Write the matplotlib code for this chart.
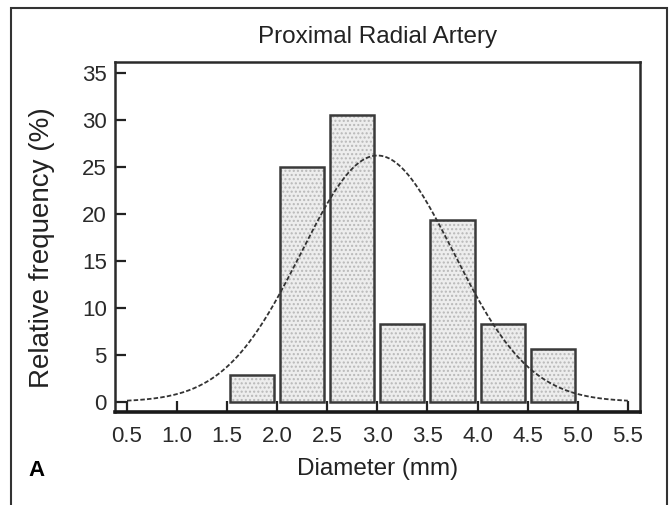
import numpy as np
import matplotlib
matplotlib.use("Agg")
import matplotlib.pyplot as plt
from matplotlib.patches import Rectangle

# histogram of proximal radial artery diameter (n = 36)
bin_centers = [1.75, 2.25, 2.75, 3.25, 3.75, 4.25, 4.75]
rel_freq = [2.8, 25.0, 30.6, 8.3, 19.4, 8.3, 5.6]

# fitted normal curve parameters
fit_mean = 3.0
fit_sd = 0.76
fit_range = [0.5, 5.5]
bin_width = 0.5

xtick_vals = [0.5, 1.0, 1.5, 2.0, 2.5, 3.0, 3.5, 4.0, 4.5, 5.0, 5.5]
ytick_vals = [0, 5, 10, 15, 20, 25, 30, 35]

plt.rcParams['font.family'] = ['Liberation Sans', 'DejaVu Sans']

fig = plt.figure(figsize=(6.7, 5.05), dpi=100)
ax = fig.add_axes([0.1716, 0.184, 0.7834, 0.693])

# bars: dotted fill, then outline on top
ax.bar(bin_centers, rel_freq, width=0.44, color='#ededed', edgecolor='#b8b8b8',
       hatch='....', linewidth=0, zorder=2)
ax.bar(bin_centers, rel_freq, width=0.44, color='none', edgecolor='#3a3a3a',
       linewidth=1.8, zorder=3)

xs = np.linspace(fit_range[0], fit_range[1], 400)
ys = 100 * bin_width / (fit_sd * np.sqrt(2 * np.pi)) * np.exp(-0.5 * ((xs - fit_mean) / fit_sd) ** 2)
ax.plot(xs, ys, color='#333333', lw=1.3, linestyle=(0, (2.5, 1.2)), zorder=4)

ax.set_xlim(0.38, 5.62)
ax.set_ylim(-1.1, 36.2)
ax.set_xticks(xtick_vals)
ax.set_xticklabels(["%.1f" % v for v in xtick_vals])
ax.set_yticks(ytick_vals)

ax.tick_params(axis='both', direction='in', length=8, width=1.6, color='#222222',
               labelsize=16, labelcolor='#2a2a2a')
ax.tick_params(axis='x', pad=10)
ax.tick_params(axis='y', pad=6)

for side in ['left', 'top', 'right']:
    ax.spines[side].set_linewidth(1.8)
    ax.spines[side].set_color('#2a2a2a')
ax.spines['bottom'].set_linewidth(2.6)
ax.spines['bottom'].set_color('#1a1a1a')

ax.set_title("Proximal Radial Artery", fontsize=17.5, color='#222222', pad=14)
ax.set_xlabel("Diameter (mm)", fontsize=17.5, color='#222222', labelpad=8)
ax.set_ylabel("Relative frequency (%)", fontsize=20, color='#222222')
ax.yaxis.set_label_coords(-0.115, 0.47)

fig.text(28 / 670, 1 - 470 / 505, "A", fontsize=16, fontweight='bold', va='center', ha='left')

# outer frame of the figure panel
fig.patches.append(Rectangle((11 / 670, -0.05), (667 - 11) / 670, 1.05 - 8 / 505,
                             transform=fig.transFigure, fill=False,
                             edgecolor='#333333', linewidth=1.5))

fig.savefig("out.png", dpi=100)
